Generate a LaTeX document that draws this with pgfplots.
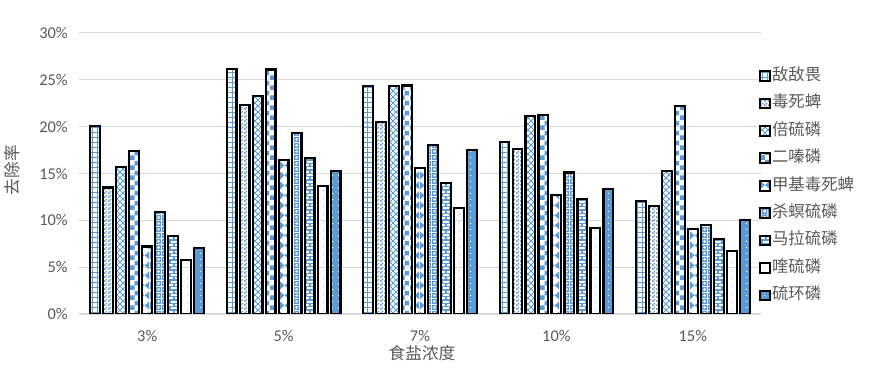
\documentclass[border=0pt]{standalone}
\usepackage{pgfplots}
\pgfplotsset{compat=1.18}
\usepackage{fontspec}
\setmainfont{Carlito}
\newfontfamily\cjk{Noto Sans CJK SC}
\usetikzlibrary{patterns,calc}
\definecolor{bblue}{HTML}{5B9BD5}
\definecolor{txtgray}{HTML}{595959}
\definecolor{gridgray}{HTML}{D9D9D9}

% 1 small grid
\pgfdeclarepatternformonly{pA}{\pgfqpoint{-1pt}{-1pt}}{\pgfqpoint{5pt}{5pt}}{\pgfqpoint{3.75pt}{3.75pt}}{%
 \pgfsetlinewidth{1pt}%
 \pgfpathmoveto{\pgfqpoint{0pt}{1.875pt}}\pgfpathlineto{\pgfqpoint{3.75pt}{1.875pt}}%
 \pgfpathmoveto{\pgfqpoint{1.875pt}{0pt}}\pgfpathlineto{\pgfqpoint{1.875pt}{3.75pt}}%
 \pgfusepath{stroke}}
% 2 small checkerboard
\pgfdeclarepatternformonly{pB}{\pgfqpoint{0pt}{0pt}}{\pgfqpoint{3pt}{3pt}}{\pgfqpoint{3pt}{3pt}}{%
 \pgfpathrectangle{\pgfqpoint{0pt}{0pt}}{\pgfqpoint{1.5pt}{1.5pt}}%
 \pgfpathrectangle{\pgfqpoint{1.5pt}{1.5pt}}{\pgfqpoint{1.5pt}{1.5pt}}%
 \pgfusepath{fill}}
% 3 diagonal crosses
\pgfdeclarepatternformonly{pC}{\pgfqpoint{-1pt}{-1pt}}{\pgfqpoint{6pt}{6pt}}{\pgfqpoint{4.5pt}{4.5pt}}{%
 \pgfsetlinewidth{0.6pt}%
 \pgfpathmoveto{\pgfqpoint{0pt}{0pt}}\pgfpathlineto{\pgfqpoint{4.5pt}{4.5pt}}%
 \pgfpathmoveto{\pgfqpoint{0pt}{4.5pt}}\pgfpathlineto{\pgfqpoint{4.5pt}{0pt}}%
 \pgfusepath{stroke}}
% 4 large checkerboard
\pgfdeclarepatternformonly{pD}{\pgfqpoint{0pt}{0pt}}{\pgfqpoint{7.5pt}{7.5pt}}{\pgfqpoint{7.5pt}{7.5pt}}{%
 \pgfpathrectangle{\pgfqpoint{0pt}{0pt}}{\pgfqpoint{3.75pt}{3.75pt}}%
 \pgfpathrectangle{\pgfqpoint{3.75pt}{3.75pt}}{\pgfqpoint{3.75pt}{3.75pt}}%
 \pgfusepath{fill}}
% 5 triangles
\pgfdeclarepatternformonly{pE}{\pgfqpoint{0pt}{0pt}}{\pgfqpoint{7.5pt}{7.5pt}}{\pgfqpoint{7.5pt}{7.5pt}}{%
 \pgfpathmoveto{\pgfqpoint{0pt}{0.4pt}}\pgfpathlineto{\pgfqpoint{3.6pt}{3.75pt}}\pgfpathlineto{\pgfqpoint{0pt}{7.1pt}}\pgfpathclose
 \pgfpathmoveto{\pgfqpoint{7.5pt}{0.4pt}}\pgfpathlineto{\pgfqpoint{3.9pt}{3.75pt}}\pgfpathlineto{\pgfqpoint{7.5pt}{7.1pt}}\pgfpathclose
 \pgfusepath{fill}}
% 6 blue with white diamonds
\pgfdeclarepatternformonly{pF}{\pgfqpoint{0pt}{0pt}}{\pgfqpoint{4.5pt}{4.5pt}}{\pgfqpoint{4.5pt}{4.5pt}}{%
 \pgfpathrectangle{\pgfqpoint{0pt}{0pt}}{\pgfqpoint{4.5pt}{4.5pt}}%
 \pgfpathmoveto{\pgfqpoint{2.25pt}{0.75pt}}\pgfpathlineto{\pgfqpoint{3.75pt}{2.25pt}}\pgfpathlineto{\pgfqpoint{2.25pt}{3.75pt}}\pgfpathlineto{\pgfqpoint{0.75pt}{2.25pt}}\pgfpathclose
 \pgfseteorule\pgfusepath{fill}}
% 7 bricks
\pgfdeclarepatternformonly{pG}{\pgfqpoint{-1pt}{-1pt}}{\pgfqpoint{7pt}{6pt}}{\pgfqpoint{6pt}{5pt}}{%
 \pgfsetlinewidth{1pt}%
 \pgfpathmoveto{\pgfqpoint{0pt}{0pt}}\pgfpathlineto{\pgfqpoint{6pt}{0pt}}%
 \pgfpathmoveto{\pgfqpoint{0pt}{2.5pt}}\pgfpathlineto{\pgfqpoint{6pt}{2.5pt}}%
 \pgfpathmoveto{\pgfqpoint{1.5pt}{0pt}}\pgfpathlineto{\pgfqpoint{1.5pt}{2.5pt}}%
 \pgfpathmoveto{\pgfqpoint{4.5pt}{2.5pt}}\pgfpathlineto{\pgfqpoint{4.5pt}{5pt}}%
 \pgfusepath{stroke}}
% 8 sparse dots
\pgfdeclarepatternformonly{pH}{\pgfqpoint{0pt}{0pt}}{\pgfqpoint{6pt}{6pt}}{\pgfqpoint{6pt}{6pt}}{%
 \pgfpathcircle{\pgfqpoint{3pt}{3pt}}{0.35pt}%
 \pgfusepath{fill}}
% 9 dots (white on blue)
\pgfdeclarepatternformonly{pI}{\pgfqpoint{0pt}{0pt}}{\pgfqpoint{4.5pt}{4.5pt}}{\pgfqpoint{4.5pt}{4.5pt}}{%
 \pgfpathcircle{\pgfqpoint{2.25pt}{2.25pt}}{0.6pt}%
 \pgfusepath{fill}}

\begin{document}
\begin{tikzpicture}
\begin{axis}[
 name=ax,
 scale only axis,
 width=511.5pt, height=210.75pt,
 ymin=0, ymax=30,
 xmin=-0.5, xmax=4.5,
 xtick={0,1,2,3,4},
 xticklabels={3\%,5\%,7\%,10\%,15\%},
 ytick={0,5,10,15,20,25,30},
 yticklabel={\pgfmathprintnumber{\tick}\%},
 /pgf/number format/assume math mode=true,
 ticklabel style={font=\fontsize{12.3}{14}\selectfont, text=txtgray},
 xticklabel style={yshift=-9pt},
 yticklabel style={xshift=-5pt},
 major tick length=0pt,
 axis lines*=left,
 y axis line style={draw=none},
 x axis line style={draw=gridgray, line width=0.9pt},
 ymajorgrids,
 grid style={draw=gridgray, line width=0.75pt},
 ybar,
 bar width=0.071,
 every axis plot/.append style={draw=black, line width=1.6pt},
 xlabel={\cjk 食盐浓度},
 ylabel={\cjk 去除率},
 label style={font=\fontsize{12.5}{14}\selectfont, text=txtgray},
 xlabel style={at={(axis description cs:0.503,-0.139)}, anchor=center},
 ylabel style={at={(axis description cs:-0.098,0.512)}, anchor=center},
 legend style={at={(axis description cs:0.991,0.89)}, anchor=north west, draw=none, fill=none,
   font=\fontsize{12.3}{13}\selectfont, text=txtgray, row sep=7.1pt,
   nodes={inner sep=1pt, text height=9pt, text depth=2.5pt}},
 legend cell align=left,
 legend image code/.code={\draw[#1, line width=1.5pt] (0pt,-3.6pt) rectangle (7.2pt,3.6pt);},
]
\addplot[bar shift=-0.3812, pattern=pA, pattern color=bblue] coordinates {(0,20.1) (1,26.2) (2,24.3) (3,18.4) (4,12.1)};
\addlegendentry{\cjk 敌敌畏}
\addplot[bar shift=-0.2859, pattern=pB, pattern color=bblue] coordinates {(0,13.5) (1,22.3) (2,20.5) (3,17.6) (4,11.5)};
\addlegendentry{\cjk 毒死蜱}
\addplot[bar shift=-0.1906, pattern=pC, pattern color=bblue] coordinates {(0,15.7) (1,23.3) (2,24.3) (3,21.1) (4,15.3)};
\addlegendentry{\cjk 倍硫磷}
\addplot[bar shift=-0.0953, pattern=pD, pattern color=bblue] coordinates {(0,17.4) (1,26.1) (2,24.4) (3,21.2) (4,22.2)};
\addlegendentry{\cjk 二嗪磷}
\addplot[bar shift=0, pattern=pE, pattern color=bblue] coordinates {(0,7.2) (1,16.4) (2,15.6) (3,12.7) (4,9.1)};
\addlegendentry{\cjk 甲基毒死蜱}
\addplot[bar shift=0.0953, pattern=pF, pattern color=bblue] coordinates {(0,10.9) (1,19.3) (2,18.0) (3,15.1) (4,9.5)};
\addlegendentry{\cjk 杀螟硫磷}
\addplot[bar shift=0.1906, pattern=pG, pattern color=bblue] coordinates {(0,8.3) (1,16.7) (2,14.0) (3,12.3) (4,8.0)};
\addlegendentry{\cjk 马拉硫磷}
\addplot[bar shift=0.2859, pattern=pH, pattern color=bblue] coordinates {(0,5.8) (1,13.7) (2,11.3) (3,9.2) (4,6.7)};
\addlegendentry{\cjk 喹硫磷}
\addplot[bar shift=0.3812, fill=bblue, postaction={pattern=pI, pattern color=white}] coordinates {(0,7.0) (1,15.3) (2,17.5) (3,13.3) (4,10.0)};
\addlegendentry{\cjk 硫环磷}
\end{axis}
\path[use as bounding box] ($(ax.south west)+(-59.25pt,-42pt)$) rectangle ($(ax.south west)+(603.75pt,235.5pt)$);
\end{tikzpicture}
\end{document}
